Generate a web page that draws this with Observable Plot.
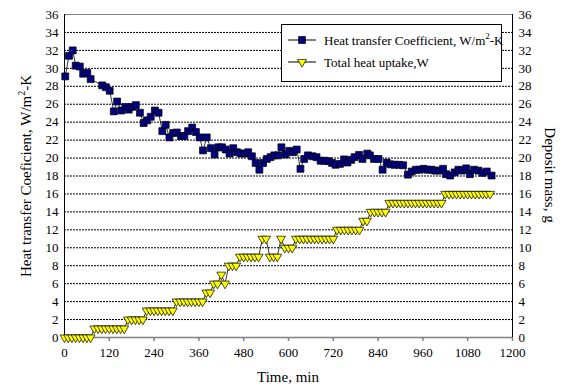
<!DOCTYPE html>
<html>
<head>
<meta charset="utf-8">
<script src="https://cdn.jsdelivr.net/npm/d3@7"></script>
<script src="https://cdn.jsdelivr.net/npm/@observablehq/plot@0.6"></script>
<style>
  html, body { margin: 0; padding: 0; background: #fff; }
  #chart { width: 562px; height: 387px; }
  #chart svg, #chart svg text { font-family: "Liberation Serif", serif !important; font-weight: normal !important; }
</style>
</head>
<body>
<div id="chart"></div>
<script>
// Heat transfer coefficient, W/m2-K (left axis)
const heatTime = [2, 12, 22, 30, 41, 50, 61, 70, 101, 111, 121, 132, 141, 152, 163, 172, 181, 191, 202, 212,
  221, 231, 242, 252, 262, 271, 281, 291, 301, 312, 321, 331, 342, 352, 362, 371, 381, 392, 402, 412,
  422, 432, 442, 452, 462, 472, 482, 492, 502, 512, 522, 532, 542, 552, 562, 572, 581, 592, 602, 612,
  622, 632, 642, 652, 664, 675, 686, 696, 708, 717, 726, 738, 749, 758, 768, 777, 789, 798, 811, 818,
  829, 841, 852, 863, 873, 884, 896, 907, 920, 930, 941, 951, 962, 972, 983, 993, 1004, 1014, 1022, 1033,
  1045, 1055, 1065, 1076, 1086, 1097, 1109, 1120, 1131, 1144];
const heatValue = [29.1, 31.4, 32.0, 30.3, 30.2, 29.4, 29.5, 28.8, 28.1, 27.9, 27.5, 25.2, 26.3, 25.3, 25.7, 25.4, 25.7, 25.9, 25.05, 23.9,
  24.2, 24.6, 25.3, 25.05, 23.0, 23.7, 22.3, 22.8, 22.85, 22.45, 22.45, 23.0, 23.4, 22.9, 22.3, 20.85, 22.3, 21.1, 20.4, 21.2,
  21.2, 20.95, 20.5, 21.1, 20.65, 20.5, 20.5, 20.65, 20.2, 19.45, 18.7, 19.45, 19.9, 20.1, 20.3, 20.3, 21.2, 20.4, 20.8, 20.65,
  20.95, 18.8, 19.9, 20.3, 20.2, 20.1, 19.7, 19.7, 19.65, 19.45, 19.25, 19.35, 19.85, 19.5, 19.8, 20.1, 20.35, 19.9, 20.5, 20.3,
  19.9, 19.9, 18.7, 19.5, 19.3, 19.25, 19.25, 19.2, 18.15, 18.5, 18.7, 18.7, 18.8, 18.7, 18.7, 18.6, 18.6, 18.8, 18.2, 18.05,
  18.4, 18.7, 18.6, 18.85, 18.2, 18.7, 18.6, 18.35, 18.5, 18.05];

// Total heat uptake / deposit mass, g (right axis, same 0-36 scale)
const massTime = [0, 10, 20, 30, 40, 50, 60, 70, 80, 90, 100, 110, 120, 130, 140, 150, 160, 170, 180, 190,
  200, 210, 220, 230, 240, 250, 260, 270, 280, 290, 300, 310, 320, 330, 340, 350, 360, 370, 380, 390,
  400, 410, 420, 430, 440, 450, 460, 470, 480, 490, 500, 510, 520, 530, 540, 550, 560, 570, 580, 590,
  600, 610, 620, 630, 640, 650, 660, 670, 680, 690, 700, 710, 720, 730, 740, 750, 760, 770, 780, 790,
  800, 810, 820, 830, 840, 850, 860, 870, 880, 890, 900, 910, 920, 930, 940, 950, 960, 970, 980, 990,
  1000, 1010, 1020, 1030, 1040, 1050, 1060, 1070, 1080, 1090, 1100, 1110, 1120, 1130, 1140];
const massValue = [0, 0, 0, 0, 0, 0, 0, 0, 1, 1, 1, 1, 1, 1, 1, 1, 1, 2, 2, 2,
  2, 2, 3, 3, 3, 3, 3, 3, 3, 3, 4, 4, 4, 4, 4, 4, 4, 4, 5, 5,
  6, 6, 7, 6, 8, 8, 8, 9, 9, 9, 9, 9, 9, 11, 11, 9, 9, 9, 11, 10,
  10, 10, 11, 11, 11, 11, 11, 11, 11, 11, 11, 11, 11, 12, 12, 12, 12, 12, 12, 12,
  13, 13, 14, 14, 14, 14, 14, 15, 15, 15, 15, 15, 15, 15, 15, 15, 15, 15, 15, 15,
  15, 15, 16, 16, 16, 16, 16, 16, 16, 16, 16, 16, 16, 16, 16];

const xTicks = [0, 120, 240, 360, 480, 600, 720, 840, 960, 1080, 1200];
const yTicks = [0, 2, 4, 6, 8, 10, 12, 14, 16, 18, 20, 22, 24, 26, 28, 30, 32, 34, 36];
const gridLines = [2, 4, 6, 8, 10, 12, 14, 16, 18, 20, 22, 24, 26, 28, 30, 32, 34];

const heat = heatTime.map((t, i) => ({t, v: heatValue[i]}));
const mass = massTime.map((t, i) => ({t, v: massValue[i]}));

const FONT = "Liberation Serif";
const sqR = 3.9, triR = 3.3;

const svg = Plot.plot({
  width: 562,
  height: 387,
  marginLeft: 64,
  marginRight: 50,
  marginTop: 14,
  marginBottom: 50,
  style: {fontFamily: FONT, fontSize: "13px", background: "#fff", color: "#000"},
  x: {domain: [0, 1200]},
  y: {domain: [0, 36]},
  marks: [
    Plot.ruleY(gridLines, {stroke: "#000", strokeWidth: 1, strokeDasharray: "2,1"}),
    Plot.ruleY([36], {stroke: "#808080", strokeWidth: 1}),
    Plot.ruleY([0], {stroke: "#808080", strokeWidth: 1.5}),
    Plot.ruleX([0], {stroke: "#000", strokeWidth: 1}),
    Plot.ruleX([1200], {stroke: "#000", strokeWidth: 1}),
    Plot.axisX({ticks: xTicks, tickSize: 4, tickPadding: 6, stroke: "#808080", strokeWidth: 1.5, label: null, fontSize: 13, tickFormat: d => String(d)}),
    Plot.axisY({anchor: "left", ticks: yTicks, tickSize: 0, tickPadding: 6, label: null, fontSize: 13, tickFormat: d => String(d)}),
    Plot.axisY({anchor: "right", ticks: yTicks, tickSize: 0, tickPadding: 6, label: null, fontSize: 13, tickFormat: d => String(d)}),
    Plot.line(mass, {x: "t", y: "v", stroke: "#000", strokeWidth: 0.8}),
    Plot.dot(mass, {x: "t", y: "v", symbol: "triangle", rotate: 180, r: triR, fill: "#ffff00", stroke: "#000", strokeWidth: 0.7}),
    Plot.line(heat, {x: "t", y: "v", stroke: "#000", strokeWidth: 0.8}),
    Plot.dot(heat, {x: "t", y: "v", symbol: "square", r: sqR, fill: "#000080", stroke: "#000", strokeWidth: 0.7})
  ]
});

const s = d3.select(svg);

// Axis titles
const lt = s.append("text")
  .attr("transform", "translate(31,176) rotate(-90)")
  .attr("text-anchor", "middle")
  .attr("font-family", FONT).attr("font-size", 15).attr("fill", "#000");
lt.append("tspan").text("Heat transfer Coeficient, W/m");
lt.append("tspan").attr("font-size", 10).attr("dy", -6).text("2");
lt.append("tspan").attr("dy", 6).text("-K");

s.append("text")
  .attr("transform", "translate(545,175) rotate(90)")
  .attr("text-anchor", "middle")
  .attr("font-family", FONT).attr("font-size", 15).attr("fill", "#000")
  .text("Deposit mass, g");

s.append("text")
  .attr("x", 288).attr("y", 381.5)
  .attr("text-anchor", "middle")
  .attr("font-family", FONT).attr("font-size", 15).attr("fill", "#000")
  .text("Time, min");

// Legend
const lg = s.append("g");
lg.append("rect").attr("x", 281.5).attr("y", 24.5).attr("width", 220).attr("height", 57)
  .attr("fill", "#fff").attr("stroke", "#000").attr("stroke-width", 1);
const entries = [
  {y: 40, sym: d3.symbolSquare, r: sqR, fill: "#000080", rot: 0, label: ["Heat transfer Coefficient, W/m", "2", "-K"]},
  {y: 62, sym: d3.symbolTriangle, r: triR, fill: "#ffff00", rot: 180, label: ["Total heat uptake,W"]}
];
entries.forEach(e => {
  lg.append("line").attr("x1", 288).attr("x2", 316).attr("y1", e.y).attr("y2", e.y)
    .attr("stroke", "#000").attr("stroke-width", 1);
  lg.append("path")
    .attr("d", d3.symbol(e.sym, e.r * e.r * Math.PI)())
    .attr("transform", `translate(302,${e.y}) rotate(${e.rot})`)
    .attr("fill", e.fill).attr("stroke", "#000").attr("stroke-width", 0.7);
  const t = lg.append("text").attr("x", 324).attr("y", e.y + 4.5)
    .attr("text-anchor", "start")
    .attr("font-family", FONT).attr("font-size", 13).attr("fill", "#000");
  t.append("tspan").text(e.label[0]);
  if (e.label.length > 1) {
    t.append("tspan").attr("font-size", 9).attr("dy", -6).text(e.label[1]);
    t.append("tspan").attr("dy", 6).text(e.label[2]);
  }
});

document.getElementById("chart").appendChild(svg);
</script>
</body>
</html>
